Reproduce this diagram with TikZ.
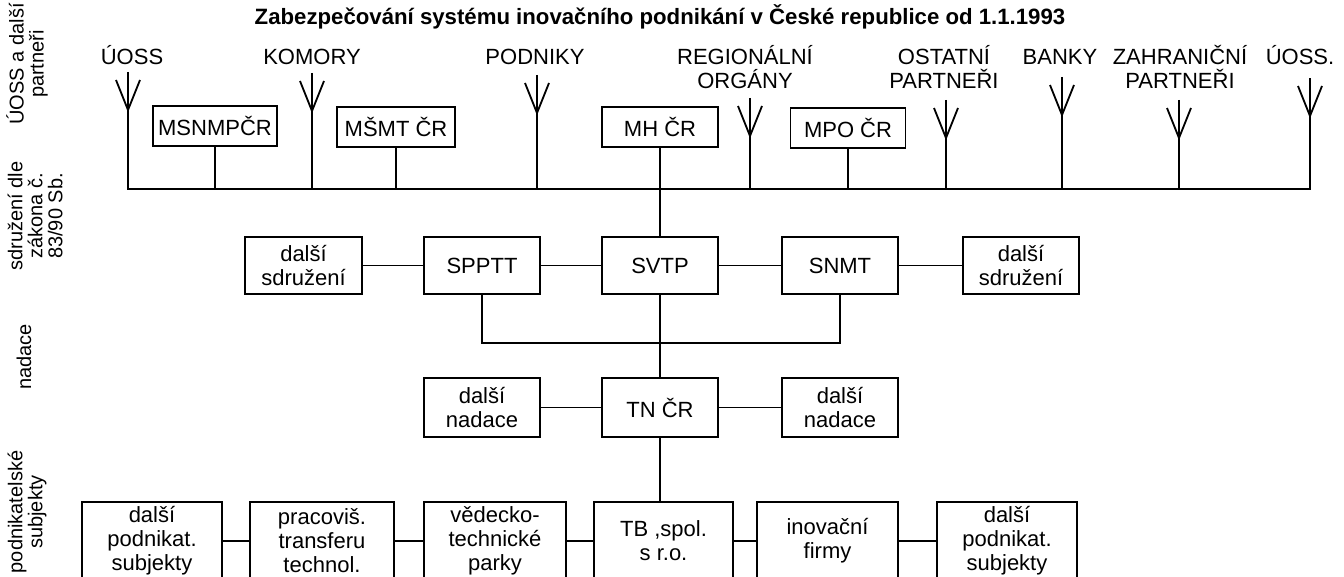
\documentclass[tikz,border=0pt]{standalone}
\usepackage{fontspec}
\setmainfont{Liberation Sans}
\usetikzlibrary{calc}
\tikzset{
  ln/.style={line width=0.9pt},
  bx/.style={draw, line width=0.9pt, inner sep=0pt, align=center, font=\fontsize{11}{12}\selectfont},
  lbl/.style={inner sep=0pt, align=center, anchor=base, font=\fontsize{11}{12}\selectfont},
  side/.style={rotate=90, inner sep=0pt, align=center, font=\fontsize{10}{10}\selectfont},
  ttl/.style={inner sep=0pt, anchor=base, font=\fontsize{11.1}{12}\selectfont\bfseries}
}
\newcommand\myant[1]{%
  \draw[ln] ($(#1)+(-12,8)$) -- ($(#1)+(0,38)$) -- ($(#1)+(12,8)$);}
\begin{document}
\begin{tikzpicture}[x=0.5pt,y=-0.5pt]
\useasboundingbox (0,0) rectangle (1344,577);
\clip (0,0) rectangle (1344,577);

% title
\node[ttl] (title) at (660,25) {Zabezpečování systému inovačního podnikání v České republice od 1.1.1993};

% side labels
\node[side] (s1) at (27,64) {ÚOSS a další\\partneři};
\node[side] (s2) at (35,216) {sdružení dle\\zákona č.\\83/90 Sb.};
\node[side] (s3) at (24,357) {nadace};
\node[side] (s4) at (27,512) {podnikatelské\\subjekty};

% antenna labels
\node[lbl] (l1) at (132,65) {ÚOSS};
\node[lbl] (l2) at (312,65) {KOMORY};
\node[lbl] (l3) at (535,65) {PODNIKY};
\node[lbl] (l4) at (745,89) {REGIONÁLNÍ\\ORGÁNY};
\node[lbl] (l5) at (944,89) {OSTATNÍ\\PARTNEŘI};
\node[lbl] (l6) at (1060,65) {BANKY};
\node[lbl] (l7) at (1180,89) {ZAHRANIČNÍ\\PARTNEŘI};
\node[lbl] (l8) at (1300,65) {ÚOSS.};

% antenna tops
\coordinate (bus) at (0,189);
\coordinate (a1) at (128,72);
\coordinate (a2) at (312,73);
\coordinate (a3) at (537,75);
\coordinate (a4) at (750,98);
\coordinate (a5) at (946,100);
\coordinate (a6) at (1062,77);
\coordinate (a7) at (1179,100);
\coordinate (a8) at (1310,78);

% top boxes
\node[bx, minimum width=62pt, minimum height=20pt] (msn) at (215,126) {MSNMPČR};
\node[bx, minimum width=59pt, minimum height=20pt] (msm) at (396,127) {MŠMT ČR};
\node[bx, minimum width=58pt, minimum height=20pt] (mh) at (660,127) {MH ČR};
\node[bx, minimum width=57.5pt, minimum height=20pt] (mpo) at (848,128) {MPO ČR};

% row 2
\node[bx, minimum width=58.5pt, minimum height=28.5pt] (ds1) at (303.5,265.5) {další\\sdružení};
\node[bx, minimum width=58pt, minimum height=28.5pt] (spptt) at (482,265.5) {SPPTT};
\node[bx, minimum width=58pt, minimum height=28.5pt] (svtp) at (660,265.5) {SVTP};
\node[bx, minimum width=58pt, minimum height=28.5pt] (snmt) at (840,265.5) {SNMT};
\node[bx, minimum width=58pt, minimum height=28.5pt] (ds2) at (1021,265.5) {další\\sdružení};

% row 3
\node[bx, minimum width=58pt, minimum height=29.5pt] (dn1) at (482,407.5) {další\\nadace};
\node[bx, minimum width=58pt, minimum height=29.5pt] (tn) at (660,407.5) {TN ČR};
\node[bx, minimum width=58pt, minimum height=29.5pt] (dn2) at (840,407.5) {další\\nadace};

% row 4
\node[bx, minimum width=70pt, minimum height=39pt] (p1) at (152,541) {další\\podnikat.\\subjekty};
\node[bx, minimum width=72pt, minimum height=39pt] (p2) at (322,541) {pracoviš.\\transferu\\technol.};
\node[bx, minimum width=71pt, minimum height=39pt] (p3) at (495,541) {vědecko-\\technické\\parky};
\node[bx, minimum width=69.5pt, minimum height=39pt] (p4) at (663.5,541) {TB ,spol.\\s r.o.};
\node[bx, minimum width=70.5pt, minimum height=39pt] (p5) at (827.5,541) {inovační\\firmy};
\node[bx, minimum width=70pt, minimum height=39pt] (p6) at (1007,541) {další\\podnikat.\\subjekty};

% bus and antennas
\draw[ln] (a1) -- (a1 |- bus) -- (a8 |- bus) -- (a8);
\foreach \a in {a2,a3,a4,a5,a6,a7} \draw[ln] (\a) -- (\a |- bus);
\foreach \a in {a1,a2,a3,a4,a5,a6,a7,a8} \myant{\a};

\draw[ln] (msn.south) -- (msn.south |- bus);
\draw[ln] (msm.south) -- (msm.south |- bus);
\draw[ln] (mpo.south) -- (mpo.south |- bus);
\draw[ln] (mh.south) -- (svtp.north);

\draw[ln] (ds1) -- (spptt);
\draw[ln] (spptt) -- (svtp);
\draw[ln] (svtp) -- (snmt);
\draw[ln] (snmt) -- (ds2);
\coordinate (br) at (660,343);
\draw[ln] (spptt.south) |- (br) -| (snmt.south);
\draw[ln] (svtp.south) -- (tn.north);

\draw[ln] (dn1) -- (tn);
\draw[ln] (tn) -- (dn2);
\draw[ln] (tn.south) -- (tn.south |- p4.north);

\draw[ln] (p1) -- (p2);
\draw[ln] (p2) -- (p3);
\draw[ln] (p3) -- (p4);
\draw[ln] (p4) -- (p5);
\draw[ln] (p5) -- (p6);
\end{tikzpicture}
\end{document}
